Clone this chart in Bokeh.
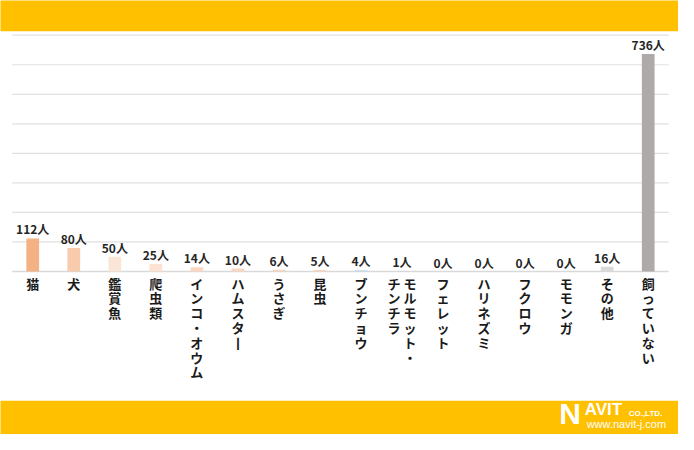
from bokeh.plotting import figure
from bokeh.models import Range1d
from bokeh.core.properties import value
from bokeh.embed import file_html
from bokeh.resources import INLINE

categories = ["猫", "犬", "鑑賞魚", "爬虫類", "インコ・オウム", "ハムスター", "うさぎ", "昆虫",
              "ブンチョウ", "モルモット・チンチラ", "フェレット", "ハリネズミ", "フクロウ",
              "モモンガ", "その他", "飼っていない"]
counts = [112, 80, 50, 25, 14, 10, 6, 5, 4, 1, 0, 0, 0, 0, 16, 736]
bar_colors = ["#F4B183", "#F8CBAD", "#FBE5D6", "#FBE2D2", "#FAD7C2", "#FAD7C2", "#F9D4BE",
              "#F9D4BE", "#BDD7EE", "#BDD7EE", "#D9D9D9", "#D9D9D9", "#D9D9D9", "#D9D9D9",
              "#D9D9D9", "#AEAAAA"]
grid_values = [100, 200, 300, 400, 500, 600, 700, 800]
# label columns (vertical writing, right column first)
label_columns = [["猫"], ["犬"], ["鑑賞魚"], ["爬虫類"], ["インコ・オウム"], ["ハムスター"], ["うさぎ"],
                 ["昆虫"], ["ブンチョウ"], ["モルモット・", "チンチラ"], ["フェレット"], ["ハリネズミ"],
                 ["フクロウ"], ["モモンガ"], ["その他"], ["飼っていない"]]

W, H = 678, 434
SX, SY = W / 694.0, H / 450.0
X0 = 33 * SX
DX = 42.0 * SX
Y0 = 281 * SY
PPU = (281 - 36) * SY / 800.0


def fx(px):
    return (px * SX - X0) / DX


def fy(py):
    return (Y0 - py * SY) / PPU


def vert(s):
    return "\n".join("丨" if ch == "ー" else ch for ch in s)


p = figure(width=W, height=H, output_backend="svg", toolbar_location=None,
           x_range=Range1d(-X0 / DX, (W - X0) / DX),
           y_range=Range1d(-(H - Y0) / PPU, Y0 / PPU),
           min_border=0, x_axis_type=None, y_axis_type=None)
p.outline_line_color = None
p.xgrid.visible = False
p.ygrid.visible = False
p.background_fill_color = "white"
p.border_fill_color = "white"

# yellow bands
p.quad(left=fx(-10), right=fx(710), top=fy(-10), bottom=fy(32), color="#FFC000", line_color=None)
p.quad(left=fx(-10), right=fx(710), top=fy(415), bottom=fy(470), color="#FFC000", line_color=None)

# gridlines
p.segment(x0=fx(12), x1=fx(684), y0=grid_values, y1=grid_values, line_color="#E0E0E0", line_width=1.2)
p.segment(x0=fx(12), x1=fx(684), y0=[0], y1=[0], line_color="#D9D9D9", line_width=1.5)

idx = list(range(len(categories)))
p.vbar(x=idx, top=counts, width=0.31, color=bar_colors, line_color=None)

p.text(x=idx, y=counts, text=[f"{c}人" for c in counts], text_align="center",
       text_baseline="bottom", y_offset=-1, text_font=value("Noto Sans CJK JP"),
       text_font_style="bold", text_font_size="12px", text_color="#262626")

lx, lt, lo = [], [], []
for i, cols in enumerate(label_columns):
    n = len(cols)
    for j, c in enumerate(cols):
        lx.append(i)
        lt.append(vert(c))
        lo.append((n - 1) * 8 - j * 16)
p.text(x=lx, y=[0] * len(lx), text=lt, x_offset=lo, text_align="center", text_baseline="top",
       y_offset=2, text_font=value("Noto Sans CJK JP"), text_font_style="bold",
       text_font_size="13px", text_line_height=0.78, text_color="#1a1a1a")

# logo
p.text(x=[fx(572)], y=[fy(445)], text=["N"], text_baseline="bottom", text_font=value("Liberation Sans"),
       text_font_style="bold", text_font_size="30px", text_color="white")
p.text(x=[fx(598)], y=[fy(434)], text=["AVIT"], text_baseline="bottom", text_font=value("Liberation Sans"),
       text_font_style="bold", text_font_size="17px", text_color="white")
p.text(x=[fx(643)], y=[fy(433)], text=["CO.,LTD."], text_baseline="bottom", text_font=value("Liberation Sans"),
       text_font_style="bold", text_font_size="8px", text_color="white")
p.text(x=[fx(600)], y=[fy(445)], text=["www.navit-j.com"], text_baseline="bottom",
       text_font=value("Liberation Sans"), text_font_size="11px", text_color="white")

open("out.html", "w").write(file_html(p, INLINE))
